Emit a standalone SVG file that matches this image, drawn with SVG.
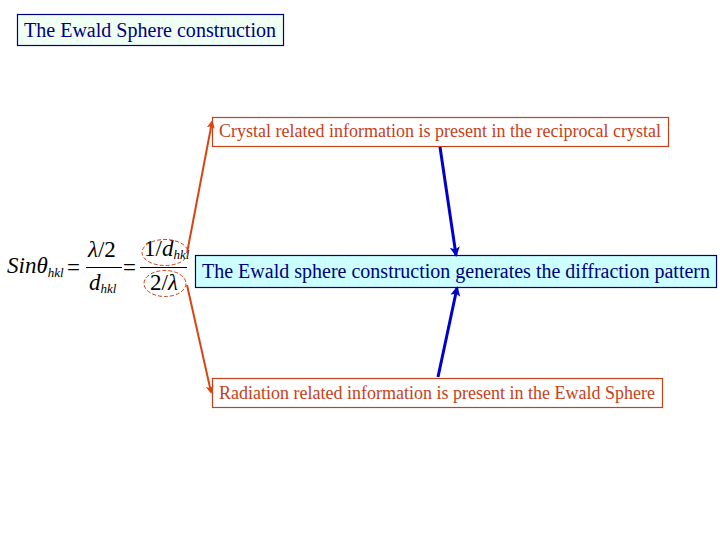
<svg xmlns="http://www.w3.org/2000/svg" width="720" height="540" viewBox="0 0 720 540">
<style>
.t{font-family:"Liberation Serif","Times New Roman",serif}
.blue{fill:#000080}
.red{fill:#c4421a}
.rbox{fill:#ffffff;stroke:#c4421a;stroke-width:1.2}
.bbox{stroke:#000080;stroke-width:1.2}
.m{font-family:"Liberation Serif","Times New Roman",serif;font-size:23px;fill:#000}
.i{font-style:italic}
.sub{font-style:italic;font-size:13px}
.ell{fill:none;stroke:#c4421a;stroke-width:1;stroke-dasharray:4 2}
.oarr{stroke:#d84515;stroke-width:2;fill:none}
.barr{stroke:#0000cc;stroke-width:3;fill:none}
</style>
<defs>
<marker id="ao" markerWidth="8" markerHeight="8" refX="6" refY="4" orient="auto" markerUnits="userSpaceOnUse">
<path d="M0,0 L8,4 L0,8 L2,4 Z" fill="#d84515"/>
</marker>
<marker id="ab" markerWidth="10" markerHeight="10" refX="8" refY="5" orient="auto" markerUnits="userSpaceOnUse">
<path d="M0,0 L10,5 L0,10 L2.5,5 Z" fill="#0000cc"/>
</marker>
</defs>
<rect width="720" height="540" fill="#ffffff"/>

<g id="title">
<rect class="bbox" x="17.5" y="14.5" width="266" height="31" fill="#f0fff4"/>
<text class="t blue" x="24" y="37" font-size="20" textLength="252" lengthAdjust="spacingAndGlyphs">The Ewald Sphere construction</text>
</g>

<g id="crystal">
<rect class="rbox" x="212.5" y="117.5" width="456" height="29"/>
<text class="t red" x="219" y="137" font-size="18" textLength="442" lengthAdjust="spacingAndGlyphs">Crystal related information is present in the reciprocal crystal</text>
</g>

<g id="ewald">
<rect class="bbox" x="195.5" y="255.5" width="521" height="32" fill="#ccffff"/>
<text class="t blue" x="202" y="278" font-size="20" textLength="508" lengthAdjust="spacingAndGlyphs">The Ewald sphere construction generates the diffraction pattern</text>
</g>

<g id="radiation">
<rect class="rbox" x="212.5" y="378.5" width="450" height="29"/>
<text class="t red" x="219" y="399" font-size="18" textLength="436" lengthAdjust="spacingAndGlyphs">Radiation related information is present in the Ewald Sphere</text>
</g>

<g id="formula">
<text class="m i" x="7" y="273">Sinθ<tspan class="sub" dy="4">hkl</tspan></text>
<text class="m" x="67" y="275">=</text>
<text class="m" x="88" y="257"><tspan class="i">λ</tspan>/2</text>
<line x1="86" y1="267.5" x2="122" y2="267.5" stroke="#000" stroke-width="1"/>
<text class="m i" x="89" y="290">d<tspan class="sub" dy="3">hkl</tspan></text>
<text class="m" x="123" y="275">=</text>
<text class="m" x="144" y="256">1/<tspan class="i">d</tspan><tspan class="sub" dy="3">hkl</tspan></text>
<line x1="140" y1="267.5" x2="187" y2="267.5" stroke="#000" stroke-width="1"/>
<text class="m" x="150" y="290">2/<tspan class="i">λ</tspan></text>
<ellipse class="ell" cx="165" cy="252.5" rx="23" ry="13"/>
<ellipse class="ell" cx="165" cy="283.5" rx="21" ry="13"/>
</g>

<g id="connectors">
<line class="oarr" x1="187" y1="253" x2="212" y2="122" marker-end="url(#ao)"/>
<line class="oarr" x1="187" y1="285" x2="211" y2="392" marker-end="url(#ao)"/>
<line class="barr" x1="440" y1="147" x2="456" y2="255" marker-end="url(#ab)"/>
<line class="barr" x1="438" y1="377" x2="457" y2="288" marker-end="url(#ab)"/>
</g>
</svg>
